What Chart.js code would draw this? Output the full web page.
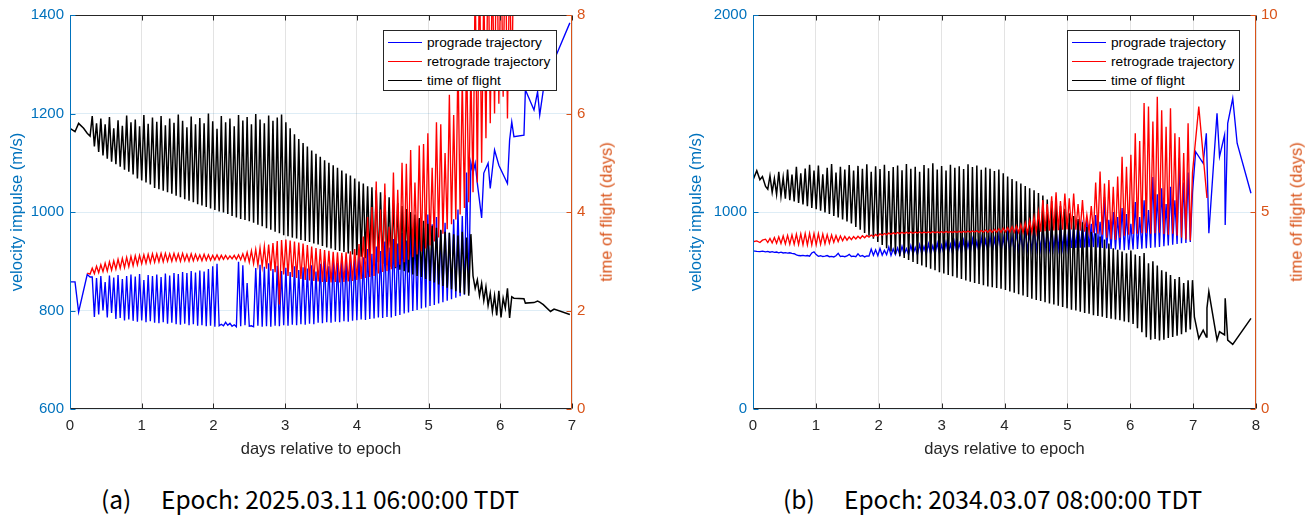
<!DOCTYPE html>
<html>
<head>
<meta charset="utf-8">
<script src="https://cdn.jsdelivr.net/npm/chart.js@4/dist/chart.umd.min.js"></script>
<style>
html,body{margin:0;background:#fff}
body{position:relative;width:1310px;height:517px;overflow:hidden;font-family:"Liberation Sans",Arial,sans-serif}
.panel{position:absolute;top:0;width:650px;height:460px}
.panel canvas{position:absolute;left:0;top:0}
.rtitle{position:absolute;transform:translate(-50%,-50%) rotate(-90deg);white-space:nowrap;color:#D95319;font-size:16.5px;line-height:1}
.legend{position:absolute;top:30px;height:61px;box-sizing:border-box;background:#fff;border:1px solid #262626;padding-top:2px;font-size:13.7px;color:#000}
.legend div{position:relative;height:19px;line-height:19px;padding-left:43px;white-space:nowrap}
.legend i{position:absolute;left:4px;top:9px;width:34px;height:1px}
.cap{position:absolute;top:487px;font-family:"Noto Sans CJK SC",sans-serif;font-size:24.5px;line-height:1;color:#000;white-space:nowrap}
</style>
</head>
<body>
<div class="panel" style="left:0"><canvas id="chartA" width="650" height="460"></canvas></div>
<div class="panel" style="left:660px"><canvas id="chartB" width="650" height="460"></canvas></div>

<div class="rtitle" style="left:606px;top:212px">time of flight (days)</div>
<div class="rtitle" style="left:1296px;top:212px">time of flight (days)</div>

<div class="legend" style="left:383px;width:174px">
  <div><i style="background:#0000ff"></i>prograde trajectory</div>
  <div><i style="background:#ff0000"></i>retrograde trajectory</div>
  <div><i style="background:#000000"></i>time of flight</div>
</div>
<div class="legend" style="left:1067px;width:173px">
  <div><i style="background:#0000ff"></i>prograde trajectory</div>
  <div><i style="background:#ff0000"></i>retrograde trajectory</div>
  <div><i style="background:#000000"></i>time of flight</div>
</div>

<div class="cap" style="left:101px">(a)</div>
<div class="cap" style="left:161px">Epoch: 2025.03.11 06:00:00 TDT</div>
<div class="cap" style="left:783px">(b)</div>
<div class="cap" style="left:844px">Epoch: 2034.03.07 08:00:00 TDT</div>

<script>
// ---- panel (a): epoch 2025.03.11 ----
const daysA = [
0,0.07,0.12,0.19,0.24,0.28,
0.31,0.34,0.37,0.40,0.43,0.46,0.49,0.52,0.55,0.58,
0.61,0.64,0.67,0.70,0.73,0.76,0.79,0.82,0.85,0.88,
0.91,0.94,0.97,1.00,1.03,1.06,1.09,1.12,1.15,1.18,
1.21,1.24,1.27,1.30,1.33,1.36,1.39,1.42,1.45,1.48,
1.51,1.54,1.57,1.60,1.63,1.66,1.69,1.72,1.75,1.78,
1.81,1.84,1.87,1.90,1.93,1.96,1.99,2.02,2.05,2.08,
2.11,2.14,2.17,2.20,2.23,2.26,2.29,2.32,2.35,2.38,
2.41,2.44,2.47,2.50,2.53,2.56,2.59,2.62,2.65,2.68,
2.71,2.74,2.77,2.80,2.83,2.86,2.89,2.92,2.95,2.98,
3.01,3.04,3.07,3.10,3.13,3.16,3.19,3.22,3.25,3.28,
3.31,3.34,3.37,3.40,3.43,3.46,3.49,3.52,3.55,3.58,
3.61,3.64,3.67,3.70,3.73,3.76,3.79,3.82,3.85,3.88,
3.91,3.94,3.97,4.00,4.03,4.06,4.09,4.12,4.15,4.18,
4.21,4.24,4.27,4.30,4.33,4.36,4.39,4.42,4.45,4.48,
4.51,4.54,4.57,4.60,4.63,4.66,4.69,4.72,4.75,4.78,
4.81,4.84,4.87,4.90,4.93,4.96,4.99,5.02,5.05,5.08,
5.11,5.14,5.17,5.20,5.23,5.26,5.29,5.32,5.35,5.38,
5.41,5.44,5.47,5.50,5.53,5.56,5.59,5.62,5.65,5.68,
5.71,5.74,5.77,5.80,5.83,5.86,5.89,5.92,5.95,5.98,
6.01,6.04,6.07,6.10,6.13,6.16,6.19,
6.33,6.35,6.47,6.52,6.55,6.60,6.66,6.70,6.75,6.79,6.97
];
// time of flight, days (right axis)
const tofA = [
5.70,5.63,5.80,5.70,5.60,5.54,
5.95,5.33,5.80,5.22,5.90,5.15,5.78,5.08,5.93,5.02,
5.70,4.97,5.86,4.92,5.75,4.86,5.96,4.82,5.82,4.76,
5.88,4.68,5.74,4.64,5.97,4.60,5.79,4.56,5.92,4.49,
5.83,4.46,5.95,4.43,5.76,4.40,5.90,4.37,5.81,4.33,
5.98,4.30,5.85,4.26,5.72,4.23,5.94,4.20,5.78,4.16,
5.91,4.13,5.80,4.10,6.00,4.07,5.84,4.04,5.69,4.01,
5.95,3.99,5.82,3.96,5.90,3.92,5.74,3.89,5.97,3.86,
5.86,3.84,5.93,3.81,5.78,3.78,5.99,3.74,5.88,3.71,
5.80,3.67,5.96,3.64,5.85,3.60,5.92,3.57,5.98,3.53,
5.82,3.51,5.70,3.48,5.58,3.46,5.48,3.43,5.40,3.41,
5.33,3.39,5.25,3.36,5.18,3.34,5.12,3.31,5.05,3.28,
5.00,3.26,4.95,3.23,4.90,3.21,4.84,3.19,4.78,3.16,
4.74,3.14,4.68,3.12,4.62,3.09,4.58,3.06,4.52,3.03,
4.50,3.00,4.44,2.98,4.40,2.95,4.34,2.92,4.30,2.89,
4.24,2.86,4.18,2.83,4.12,2.80,4.06,2.77,4.00,2.73,
3.95,2.70,3.88,2.68,3.82,2.64,3.76,2.60,3.72,2.57,
3.68,2.53,3.64,2.50,3.60,2.46,3.58,2.43,3.55,2.39,
3.52,2.36,3.60,2.33,3.48,2.30,3.55,2.70,2.45,2.62,
2.30,2.55,2.20,2.48,2.10,2.35,1.98,2.30,1.90,2.40,
1.86,2.25,2.05,2.45,1.85,2.28,2.25,
2.24,2.15,2.16,2.19,2.17,2.12,null,1.98,2.03,null,1.92
];
// prograde velocity impulse, m/s
const progradeA = [
858,858,797,null,873,868,
868,787,866,792,870,800,858,786,871,795,
867,783,872,785,864,780,870,782,873,779,
869,777,874,780,862,776,872,778,870,775,
873,774,868,776,875,773,871,775,876,772,
874,771,878,773,876,770,880,772,877,769,
881,770,879,768,884,769,890,767,895,769,
772,769,776,770,774,768,771,767,899,768,
892,770,856,768,769,767,886,769,893,767,
889,768,896,767,884,769,891,768,880,770,
887,769,878,771,890,770,882,772,888,771,
885,773,892,772,879,775,895,774,901,776,
890,775,905,777,897,776,910,778,902,777,
912,779,904,780,918,782,908,781,925,783,
915,784,930,786,921,785,940,787,928,786,
945,789,936,791,958,794,942,796,970,799,
955,801,985,804,968,806,995,809,975,811,
990,814,962,817,978,820,958,823,985,826,
1005,829,992,832,1080,835,1100,1079,1099,1058,
null,988,1079,null,1099,1048,null,1126,null,1095,
null,null,null,1058,1146,1183,1153,
1156,1248,1207,1244,1197,1248,1305,null,1329,1322,1384
];
// retrograde velocity impulse, m/s
const retrogradeA = [
null,null,null,null,876,874,
886,875,890,877,893,879,896,880,899,882,
901,884,904,886,906,887,908,889,910,891,
911,893,912,895,913,896,914,897,915,898,
915,899,916,899,916,900,915,900,916,901,
915,900,916,901,914,900,915,901,914,902,
913,901,914,902,913,902,912,903,913,903,
912,904,912,904,911,905,912,904,913,903,
915,901,918,898,921,895,924,892,927,889,
930,885,934,881,937,878,941,812,943,873,
944,870,942,868,940,866,938,864,936,862,
933,861,930,860,927,859,925,858,923,858,
921,857,919,858,918,857,917,858,918,859,
920,860,925,862,935,864,950,866,990,868,
1010,870,1062,875,1005,878,1058,880,970,884,
1080,888,1045,893,1100,898,1098,903,1126,908,
1060,914,1135,920,1138,926,1160,932,1090,940,
1182,948,1178,956,1120,965,1238,975,1197,985,
1315,995,1270,1008,1330,1020,1290,1040,1480,1060,
1520,1100,1460,1150,1550,1180,1500,1200,1600,1220,
1540,1234,1580,1190,1500,1250,1560,
null,null,null,null,null,null,null,null,null,null,null
];

// ---- panel (b): epoch 2034.03.07 ----
const daysB = [
0,0.06,0.11,0.15,
0.2,0.235,0.27,0.305,0.34,0.375,0.41,0.445,0.48,0.515,
0.55,0.585,0.62,0.655,0.69,0.725,0.76,0.795,0.83,0.865,
0.9,0.935,0.97,1.005,1.04,1.075,1.11,1.145,1.18,1.215,
1.25,1.285,1.32,1.355,1.39,1.425,1.46,1.495,1.53,1.565,
1.6,1.635,1.67,1.705,1.74,1.775,1.81,1.845,1.88,1.915,
1.95,1.985,2.02,2.055,2.09,2.125,2.16,2.195,2.23,2.265,
2.3,2.335,2.37,2.405,2.44,2.475,2.51,2.545,2.58,2.615,
2.65,2.685,2.72,2.755,2.79,2.825,2.86,2.895,2.93,2.965,
3.0,3.035,3.07,3.105,3.14,3.175,3.21,3.245,3.28,3.315,
3.35,3.385,3.42,3.455,3.49,3.525,3.56,3.595,3.63,3.665,
3.7,3.735,3.77,3.805,3.84,3.875,3.91,3.945,3.98,4.015,
4.05,4.085,4.12,4.155,4.19,4.225,4.26,4.295,4.33,4.365,
4.4,4.435,4.47,4.505,4.54,4.575,4.61,4.645,4.68,4.715,
4.75,4.785,4.82,4.855,4.89,4.925,4.96,4.995,5.03,5.065,
5.1,5.135,5.17,5.205,5.24,5.275,5.31,5.345,5.38,5.415,
5.45,5.485,5.52,5.555,5.59,5.625,5.66,5.695,5.73,5.765,
5.8,5.835,5.87,5.905,5.94,5.975,6.01,6.045,6.08,6.115,
6.15,6.185,6.22,6.255,6.29,6.325,6.36,6.395,6.43,6.465,
6.5,6.535,6.57,6.605,6.64,6.675,6.71,6.745,6.78,6.815,
6.85,6.885,6.92,6.955,6.99,
7.02,7.04,7.09,7.16,7.21,7.22,7.25,7.38,7.42,7.50,7.51,7.55,7.63,7.70,7.92
];
const tofB = [
5.81,6.05,5.82,5.90,
5.65,5.58,5.92,5.50,5.85,5.45,6.02,5.40,5.88,5.34,
6.08,5.30,5.95,5.27,6.15,5.23,5.98,5.19,6.10,5.15,
6.20,5.10,6.05,5.07,6.18,5.03,5.96,4.99,6.12,4.95,
6.22,4.90,6.00,4.86,6.15,4.81,6.08,4.76,6.19,4.71,
6.05,4.62,6.17,4.55,6.10,4.47,6.21,4.40,6.02,4.32,
6.16,4.24,6.09,4.16,6.20,4.08,6.04,4.00,6.14,3.93,
6.18,3.88,6.06,3.83,6.22,3.78,6.10,3.73,6.15,3.68,
6.02,3.64,6.19,3.60,6.11,3.56,6.24,3.52,6.08,3.47,
6.17,3.44,6.05,3.40,6.20,3.37,6.12,3.33,6.16,3.30,
6.09,3.26,6.21,3.23,6.14,3.20,6.18,3.17,6.07,3.14,
6.13,3.11,6.10,3.09,6.04,3.07,6.08,3.05,5.98,3.02,
5.90,2.98,5.84,2.95,5.78,2.91,5.72,2.88,5.66,2.84,
5.60,2.80,5.55,2.77,5.48,2.74,5.42,2.71,5.32,2.68,
5.28,2.65,5.22,2.62,5.15,2.59,5.08,2.56,4.97,2.52,
4.90,2.50,4.82,2.47,4.74,2.44,4.62,2.42,4.50,2.38,
4.46,2.36,4.38,2.34,4.30,2.31,4.20,2.29,4.08,2.27,
4.04,2.25,4.00,2.22,3.95,2.20,4.02,2.16,3.92,2.05,
3.88,1.95,3.96,1.82,3.70,1.76,3.75,1.78,3.64,1.74,
3.52,1.76,3.48,1.80,3.40,1.83,3.30,1.86,3.35,1.90,
3.20,1.95,3.27,2.02,3.27,
2.34,null,1.79,2.00,1.83,2.56,2.98,1.75,1.96,1.88,2.81,1.75,1.64,null,2.30
];
const progradeB = [
803,800,799,801,
798,800,796,799,795,797,793,796,792,794,
791,793,790,788,782,779,778,780,777,779,
776,792,798,784,775,778,774,776,779,773,
775,772,778,790,774,776,773,777,785,774,
776,773,788,775,779,772,777,776,812,780,
808,778,815,781,805,783,822,780,812,784,
818,782,826,785,814,783,830,786,820,784,
834,787,825,785,838,788,828,786,842,789,
832,788,846,790,836,789,850,791,840,792,
856,791,845,793,862,794,850,795,868,796,
858,797,875,798,864,799,882,800,870,801,
890,802,876,803,896,805,884,806,902,807,
888,808,910,809,895,810,918,811,900,812,
925,813,905,814,935,815,912,816,945,817,
920,818,955,819,930,820,968,821,940,822,
985,820,950,818,1076,815,960,812,1000,810,
975,808,1020,806,990,808,940,810,1050,812,
975,814,1060,816,1010,818,1178,820,1090,822,
1120,826,1040,830,1128,834,1060,838,1274,842,
1150,843,1200,848,1100,
null,1306,null,1247,1400,null,892,1501,1281,1391,934,1450,1577,1349,1095
];
const retrogradeB = [
849,853,845,857,
862,845,866,843,870,841,874,840,878,838,
881,837,884,836,887,835,889,834,891,833,
892,833,891,834,890,836,888,839,885,842,
883,846,880,850,878,854,876,857,874,860,
875,863,877,866,879,869,881,872,883,875,
886,878,889,882,891,885,893,887,894,889,
896,890,897,891,897,892,898,892,898,893,
899,893,898,894,899,894,900,895,899,895,
900,895,901,896,900,896,901,897,902,896,
902,897,903,897,904,898,905,897,906,898,
908,897,910,896,912,898,915,897,918,899,
921,898,925,897,930,896,936,895,945,894,
958,896,975,898,1000,900,1061,903,1040,905,
1080,906,1100,908,1055,910,1094,912,1070,911,
1094,910,1040,905,1061,900,985,898,1030,895,
1150,890,1205,885,1145,870,1162,862,1128,858,
1180,870,1280,880,1230,885,1290,888,1400,890,
1360,892,1553,893,1535,890,1459,892,1585,895,
1516,888,1433,885,1527,890,1400,880,1380,870,
1300,860,1451,855,1200,
null,null,1535,null,null,1071,null,null,null,null,null,null,null,null,null
];

const BLUE = '#0072BD';
const ORANGE = '#D95319';
const DARK = '#262626';
const FAMILY = '"Liberation Sans", Arial, sans-serif';

function series(days, vals) {
  return days.map((d, i) => ({ x: d, y: vals[i] }));
}

// MATLAB-like box: top/bottom black, left blue, right orange, inward ticks
const axisFrame = {
  id: 'axisFrame',
  afterDraw(chart) {
    const { ctx, chartArea: a, scales } = chart;
    const L = Math.round(a.left) + 0.5, R = Math.round(a.right) - 0.5;
    const T = Math.round(a.top) + 0.5, B = Math.round(a.bottom) - 0.5;
    const seg = (x1, y1, x2, y2, c) => {
      ctx.strokeStyle = c;
      ctx.beginPath(); ctx.moveTo(x1, y1); ctx.lineTo(x2, y2); ctx.stroke();
    };
    ctx.save();
    ctx.lineWidth = 1;
    seg(L, T, R, T, DARK);
    seg(L, B, R, B, DARK);
    scales.x.ticks.forEach(t => {
      const p = Math.round(scales.x.getPixelForValue(t.value)) + 0.5;
      seg(p, B, p, B - 5, DARK);
      seg(p, T, p, T + 5, DARK);
    });
    scales.y.ticks.forEach(t => {
      const p = Math.round(scales.y.getPixelForValue(t.value)) + 0.5;
      seg(L, p, L + 5, p, BLUE);
    });
    scales.y1.ticks.forEach(t => {
      const p = Math.round(scales.y1.getPixelForValue(t.value)) + 0.5;
      seg(R, p, R - 5, p, ORANGE);
    });
    seg(L, T, L, B, BLUE);
    seg(R, T, R, B, ORANGE);
    ctx.restore();
  }
};

const plain = v => String(v);

function buildPanel(id, o) {
  const tickFont = { family: FAMILY, size: 15 };
  const titleFont = { family: FAMILY, size: 16.5 };
  return new Chart(document.getElementById(id), {
    type: 'line',
    data: {
      datasets: [
        { label: 'retrograde trajectory', data: series(o.days, o.retro), yAxisID: 'y', borderColor: '#ff0000', order: 0 },
        { label: 'time of flight', data: series(o.days, o.tof), yAxisID: 'y1', borderColor: '#000000', borderWidth: 1.5, order: 1 },
        { label: 'prograde trajectory', data: series(o.days, o.pro), yAxisID: 'y', borderColor: '#0000ff', order: 2 }
      ]
    },
    options: {
      responsive: false,
      animation: false,
      devicePixelRatio: 1,
      spanGaps: true,
      datasets: { line: { borderWidth: 1.35, pointRadius: 0, tension: 0, fill: false } },
      layout: { padding: { top: 15, left: 0, right: 0, bottom: 0 } },
      plugins: { legend: { display: false }, tooltip: { enabled: false } },
      scales: {
        x: {
          type: 'linear', min: 0, max: o.xMax,
          afterFit: s => { s.height = 51; },
          ticks: { stepSize: 1, color: DARK, font: tickFont, padding: 8, maxRotation: 0, autoSkip: false, callback: plain },
          grid: { color: 'rgba(38,38,38,0.13)', drawTicks: false },
          border: { display: false },
          title: { display: true, text: 'days relative to epoch', color: DARK, font: titleFont, padding: { top: 0, bottom: 1 } }
        },
        y: {
          position: 'left', min: o.vMin, max: o.vMax,
          afterFit: s => { s.width = o.leftW; },
          ticks: { stepSize: o.vStep, color: BLUE, font: tickFont, padding: 6, callback: plain },
          grid: { color: 'rgba(0,114,189,0.13)', drawTicks: false },
          border: { display: false },
          title: { display: true, text: 'velocity impulse (m/s)', color: BLUE, font: titleFont, padding: { top: o.titlePad, bottom: 0 } }
        },
        y1: {
          position: 'right', min: 0, max: o.tMax,
          afterFit: s => { s.width = o.rightW; },
          ticks: { stepSize: o.tStep, color: ORANGE, font: tickFont, padding: 5, callback: plain },
          grid: { display: false, drawTicks: false },
          border: { display: false }
        }
      }
    },
    plugins: [axisFrame]
  });
}

buildPanel('chartA', {
  days: daysA, tof: tofA, pro: progradeA, retro: retrogradeA,
  xMax: 7, vMin: 600, vMax: 1400, vStep: 200, tMax: 8, tStep: 2,
  leftW: 70, rightW: 78, titlePad: 8
});
buildPanel('chartB', {
  days: daysB, tof: tofB, pro: progradeB, retro: retrogradeB,
  xMax: 8, vMin: 0, vMax: 2000, vStep: 1000, tMax: 10, tStep: 5,
  leftW: 93, rightW: 54, titlePad: 27
});
</script>
</body>
</html>
